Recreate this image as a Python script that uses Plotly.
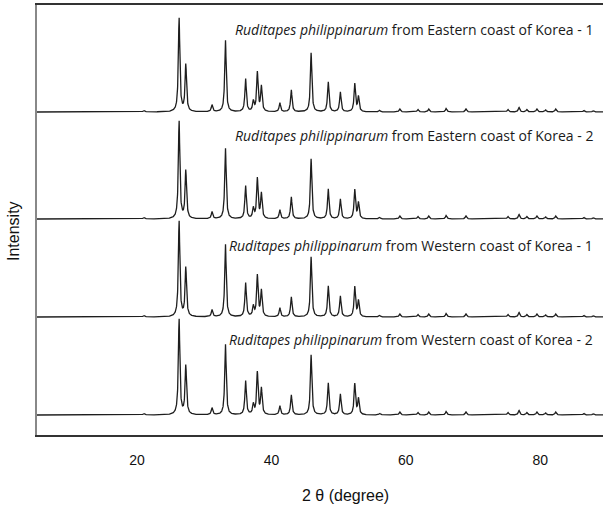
import numpy as np
import plotly.graph_objects as go

# Peak positions (2 theta, degree)
peak_pos = [21.0, 26.25, 27.25, 31.15, 33.15, 36.15, 37.3, 37.9, 38.5, 41.25,
            42.95, 45.9, 48.45, 50.25, 52.4, 52.95, 56.1, 59.1, 61.8, 63.4,
            66.0, 68.95, 75.2, 76.85, 78.0, 79.5, 80.8, 82.3, 86.5, 87.9]

# Peak heights for each sample (arbitrary intensity units)
heights_east1 = [1.5, 94, 47, 7, 72, 33, 10, 39, 25, 9,
                 22, 59, 30, 20, 28, 15, 1.5, 3, 2.5, 3,
                 3.5, 3, 2.5, 4.5, 2.5, 3, 2, 3, 1.5, 1.5]
heights_east2 = [1.5, 98, 48, 7, 71, 33, 10, 40, 25, 9,
                 22, 60, 30, 20, 29, 16, 1.5, 3, 2.5, 3,
                 3.5, 3, 2.5, 4.5, 2.5, 3, 2, 3, 1.5, 1.5]
heights_west1 = [1.5, 96, 49, 7, 73, 34, 10, 41, 26, 9,
                 20, 60, 31, 21, 30, 16, 1.5, 3, 2.5, 3,
                 3.5, 3, 2.5, 4.5, 2.5, 3, 2, 3, 1.5, 1.5]
heights_west2 = [1.5, 96, 49, 7, 71, 34, 10, 42, 26, 9,
                 20, 60, 32, 21, 31, 16, 1.5, 3, 2.5, 3,
                 3.5, 3, 2.5, 4.5, 2.5, 3, 2, 3, 1.5, 1.5]

# Vertical offsets of the stacked patterns
offsets = [323, 216, 118, 20]

labels = [
    "<i>Ruditapes philippinarum</i> from Eastern coast of Korea - 1",
    "<i>Ruditapes philippinarum</i> from Eastern coast of Korea - 2",
    "<i>Ruditapes philippinarum</i> from Western coast of Korea - 1",
    "<i>Ruditapes philippinarum</i> from Western coast of Korea - 2",
]
label_y = [406, 300, 190, 96]

x_ticks = [20, 40, 60, 80]

x = np.arange(5.1, 89.4, 0.02)
gamma = 0.13


def pattern(heights):
    y = np.zeros_like(x)
    for p, h in zip(peak_pos, heights):
        y += h / (1.0 + ((x - p) / gamma) ** 2)
    return y


fig = go.Figure()
for hs, off in zip([heights_east1, heights_east2, heights_west1, heights_west2], offsets):
    fig.add_trace(go.Scatter(x=x, y=pattern(hs) + off, mode="lines",
                             line=dict(color="#1e1e1e", width=1.3),
                             showlegend=False, hoverinfo="skip"))

for txt, ly in zip(labels, label_y):
    fig.add_annotation(x=88.1, y=ly, xref="x", yref="y", text=txt, showarrow=False,
                       xanchor="right", yanchor="middle",
                       font=dict(family="Open Sans", size=14, color="#1a1a1a"))

fig.add_annotation(x=(345 - 37) / 566, y=(435 - 495) / 430, xref="paper", yref="paper",
                   text="2 θ (degree)", showarrow=False, xanchor="center", yanchor="middle",
                   font=dict(family="Liberation Sans, Arial", size=16, color="#111"))
fig.add_annotation(x=(13 - 37) / 566, y=(435 - 231) / 430, xref="paper", yref="paper",
                   text="Intensity", showarrow=False, textangle=-90,
                   xanchor="center", yanchor="middle",
                   font=dict(family="Liberation Sans, Arial", size=16, color="#111"))

fig.update_layout(
    width=603, height=508,
    margin=dict(l=37, r=0, t=5, b=73),
    plot_bgcolor="white", paper_bgcolor="white",
    xaxis=dict(range=[5.1, 89.35], tickvals=x_ticks, ticks="", showgrid=False,
               zeroline=False, showline=True, linecolor="#333", linewidth=1.5,
               mirror=True, ticklabelstandoff=11,
               tickfont=dict(family="Liberation Sans, Arial", size=14, color="#111")),
    yaxis=dict(range=[0, 430], showticklabels=False, ticks="", showgrid=False,
               zeroline=False, showline=True, linecolor="#888", linewidth=1.5),
)

fig.write_html("out.html", config={"displayModeBar": False},
               post_script="document.body.style.margin='0';document.body.style.overflow='hidden';")
